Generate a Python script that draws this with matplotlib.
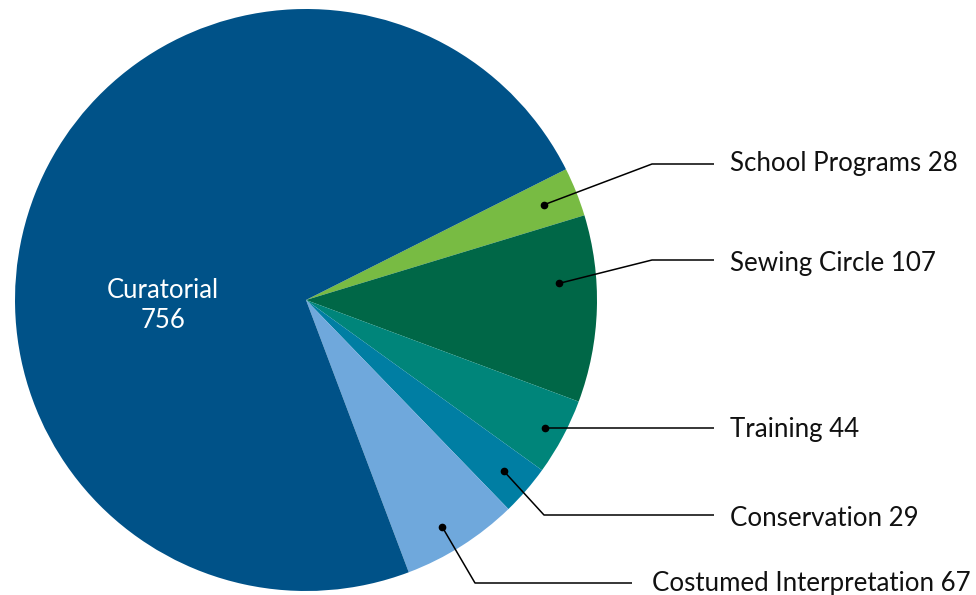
import numpy as np
import matplotlib.pyplot as plt

labels = ['School Programs', 'Sewing Circle', 'Training', 'Conservation',
          'Costumed Interpretation', 'Curatorial']
values = [28, 107, 44, 29, 67, 756]
colors = ['#78bb43', '#006747', '#00857a', '#007ea3', '#6fa8dc', '#005288']

plt.rcParams['font.family'] = ['Lato', 'DejaVu Sans']

fig = plt.figure(figsize=(9.76, 5.95), dpi=100)
ax = fig.add_axes([0, 0, 1, 1])

cx, cy, R = 306, 295, 291
start = 26.7
wedges, _ = ax.pie(values, colors=colors, startangle=start, counterclock=False,
                   center=(cx, cy), radius=R, frame=True,
                   wedgeprops=dict(linewidth=0))
ax.set_xlim(0, 976)
ax.set_ylim(0, 595)
ax.set_aspect('equal')
ax.axis('off')

# label layout: (elbow x, elbow y, line end x, text x, text y)
layout = [
    (652, 431, 714, 730, 432),
    (652, 335, 714, 730, 332),
    (None, None, 714, 730, None),
    (544, 80, 714, 730, 77),
    (475, 12, 632, 652, 11),
]
radfrac = [0.88, 0.87, 0.93, 0.9, 0.91]
angoff = [0, 5.5, 0, 0, -1.4]

for i, w in enumerate(wedges[:5]):
    mid = np.deg2rad((w.theta1 + w.theta2) / 2 + angoff[i])
    px = cx + radfrac[i] * R * np.cos(mid)
    py = cy + radfrac[i] * R * np.sin(mid)
    ex, ey, lx, tx, ty = layout[i]
    if ex is None:
        xs, ys = [px, lx], [py, py]
        ty = py - 2
    else:
        xs, ys = [px, ex, lx], [py, ey, ey]
    ax.plot(xs, ys, color='black', lw=1.1, solid_capstyle='butt')
    ax.plot(px, py, 'o', color='black', ms=4.5)
    ax.text(tx, ty, f'{labels[i]} {values[i]}', fontsize=18.6, color='#111111',
            va='center', ha='left')

ax.text(163, 289, f'{labels[5]}\n{values[5]}', fontsize=18.5, color='white',
        ha='center', va='center', linespacing=1.25)

fig.savefig('out.png', dpi=100)
